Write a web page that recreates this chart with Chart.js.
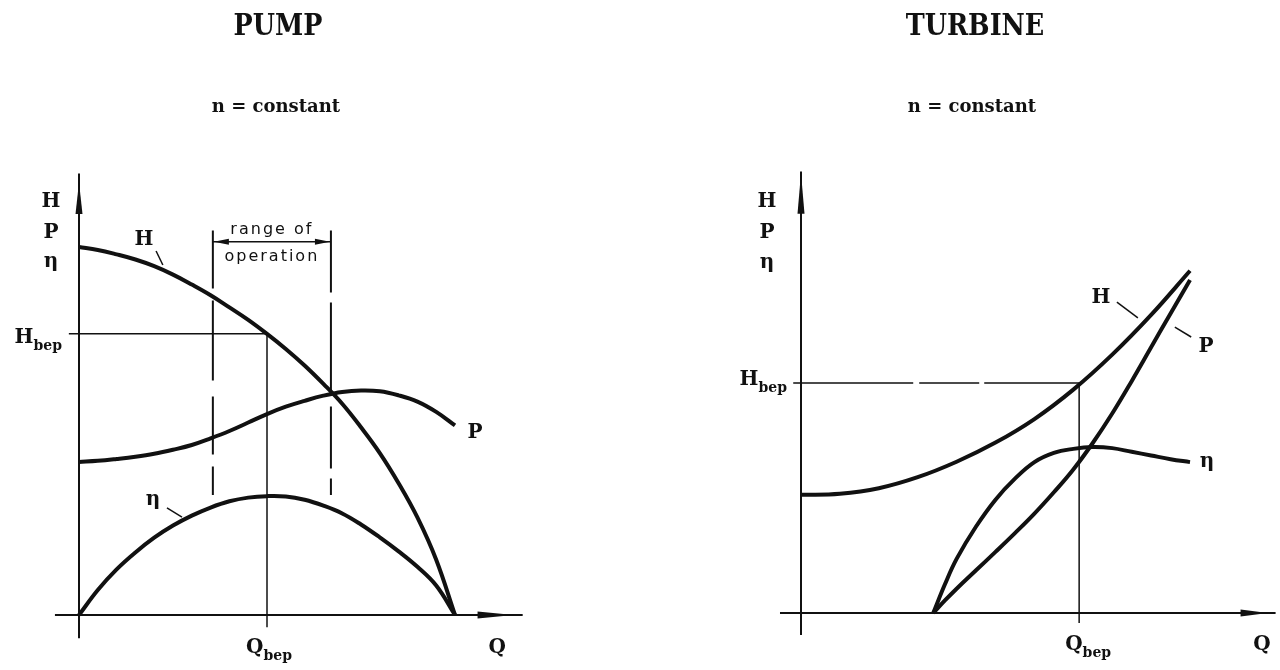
<!DOCTYPE html>
<html>
<head>
<meta charset="utf-8">
<title>Pump and turbine characteristics</title>
<script src="https://cdn.jsdelivr.net/npm/chart.js@4.4.1/dist/chart.umd.min.js"></script>
<style>
  body { margin: 0; width: 1280px; height: 670px; background: #fff; position: relative; overflow: hidden; }
  canvas { position: absolute; top: 0; }
  #pumpChart { left: 0; }
  #turbineChart { left: 640px; }
  .title, .sub { position: absolute; width: 200px; text-align: center; color: #111; font-family: 'DejaVu Serif', serif; font-weight: bold; z-index: 2; }
  .title { top: 10px; font-size: 30px; line-height: 30px; transform: scaleX(0.85); }
  .sub { top: 97px; font-size: 18px; line-height: 18px; }
</style>
</head>
<body>
<canvas id="pumpChart" width="640" height="670"></canvas>
<canvas id="turbineChart" width="640" height="670"></canvas>
<div class="title" style="left:178px">PUMP</div>
<div class="title" style="left:875px">TURBINE</div>
<div class="sub" style="left:176px">n = constant</div>
<div class="sub" style="left:872px">n = constant</div>
<script>
// --- pump, n = constant (Q and H/P/eta in relative units) ---
const qPump = [0, 5, 10, 15, 20, 25, 30, 35, 40, 45, 50, 55, 60, 65, 70, 75, 80, 85, 90, 95, 100];
const headPump = [100, 99.2, 98, 96.6, 94.8, 92.5, 89.8, 86.9, 83.6, 80.2, 76.4, 72.3, 67.8, 62.8, 57.4, 51, 44, 35.8, 26.5, 15, 0];
const powerPump = [41.6, 41.9, 42.4, 43, 43.8, 44.9, 46.2, 48, 50, 52.3, 54.6, 56.6, 58.2, 59.6, 60.6, 61, 60.8, 59.7, 58, 55.2, 51.5];
const effPump = [0, 6.8, 12.4, 17, 21, 24.3, 27, 29.2, 30.9, 31.9, 32.3, 32.2, 31.3, 29.7, 27.6, 24.6, 21.1, 17.3, 13.1, 8, 0];
const qBepPump = 50;
const hBepPump = 76.4;
const rangePump = [35.6, 67];

// --- turbine, n = constant ---
const qTurbineH = [0, 10, 20, 30, 40, 50, 60, 70, 80, 90, 100];
const headTurbine = [32.1, 32.4, 33.9, 36.9, 41.1, 46.3, 52.7, 60.7, 70.2, 81, 93];
const qTurbine = [34, 37, 40, 45, 50, 55, 60, 65, 70, 75, 80, 85, 90, 95, 100];
const powerTurbine = [0, 3.4, 6.6, 11.6, 16.6, 21.7, 27, 32.8, 39, 46.2, 54.2, 63, 72.2, 81.4, 90.5];
const effTurbine = [0, 7.8, 14.7, 23.5, 30.8, 36.5, 41, 43.5, 44.6, 45.1, 44.8, 43.8, 42.8, 41.8, 41];
const qBepTurbine = 71.5;
const hBepTurbine = 62.5;

const INK = '#111';
const LABEL_FONT = 'bold 20px "DejaVu Serif", serif';
const SUB_FONT = 'bold 14px "DejaVu Serif", serif';

function toPoints(xs, ys) {
  return xs.map((x, i) => ({ x: x, y: ys[i] }));
}

function curve(label, xs, ys) {
  return {
    label: label,
    data: toPoints(xs, ys),
    borderColor: INK,
    borderWidth: 4,
    pointRadius: 0,
    fill: false,
    tension: 0.4,
    clip: false
  };
}

// draws axes, arrows, bep lines and all labels on top of the curves
function makeOverlay(spec) {
  return {
    id: 'overlay',
    afterDatasetsDraw(chart) {
      const ctx = chart.ctx;
      const X = v => chart.scales.x.getPixelForValue(v);
      const Y = v => chart.scales.y.getPixelForValue(v);

      function seg(x1, y1, x2, y2, w, dash) {
        ctx.save();
        ctx.lineWidth = w;
        ctx.setLineDash(dash || []);
        ctx.beginPath();
        ctx.moveTo(x1, y1);
        ctx.lineTo(x2, y2);
        ctx.stroke();
        ctx.restore();
      }

      function dart(x1, y1, x2, y2, hw) {
        const len = Math.hypot(x2 - x1, y2 - y1);
        const nx = -(y2 - y1) / len, ny = (x2 - x1) / len;
        ctx.beginPath();
        ctx.moveTo(x1 + nx * hw, y1 + ny * hw);
        ctx.lineTo(x2, y2);
        ctx.lineTo(x1 - nx * hw, y1 - ny * hw);
        ctx.closePath();
        ctx.fill();
      }

      function text(main, sub, x, y, align) {
        ctx.font = LABEL_FONT;
        const w1 = ctx.measureText(main).width;
        ctx.font = SUB_FONT;
        const w2 = sub ? ctx.measureText(sub).width : 0;
        let x0 = x;
        if (align === 'center') x0 = x - (w1 + w2) / 2;
        if (align === 'right') x0 = x - (w1 + w2);
        ctx.textAlign = 'left';
        ctx.textBaseline = 'alphabetic';
        ctx.font = LABEL_FONT;
        ctx.fillText(main, x0, y);
        if (sub) {
          ctx.font = SUB_FONT;
          ctx.fillText(sub, x0 + w1, y + 7);
        }
      }

      ctx.save();
      ctx.strokeStyle = INK;
      ctx.fillStyle = INK;

      // axes
      seg(X(0), Y(spec.yAxis[0]), X(0), Y(spec.yAxis[1]), 2);
      seg(X(spec.xAxis[0]), Y(0), X(spec.xAxis[1]), Y(0), 2);
      dart(X(0), Y(spec.yArrow[0]), X(0), Y(spec.yArrow[1]), 3.5);
      dart(X(spec.xArrow[0]), Y(0), X(spec.xArrow[1]), Y(0), 3.5);

      // best efficiency point
      seg(X(spec.hLineFrom), Y(spec.hBep), X(spec.qBep), Y(spec.hBep), 1.5, spec.hDash);
      seg(X(spec.qBep), Y(spec.hBep), X(spec.qBep), Y(spec.qLineTo), 1.5);

      // range of operation
      if (spec.range) {
        const r = spec.range;
        seg(X(r[0]), Y(r[2]), X(r[0]), Y(r[3]), 2, [58, 12, 80, 16]);
        seg(X(r[1]), Y(r[2]), X(r[1]), Y(r[3]), 2, [62, 10, 90, 14]);
        seg(X(r[0]), Y(r[4]), X(r[1]), Y(r[4]), 1.5);
        dart(X(r[0]) + 16, Y(r[4]), X(r[0]) + 1, Y(r[4]), 3);
        dart(X(r[1]) - 16, Y(r[4]), X(r[1]) - 1, Y(r[4]), 3);
        ctx.save();
        ctx.font = '16px "DejaVu Sans", sans-serif';
        ctx.letterSpacing = '2px';
        ctx.textAlign = 'center';
        ctx.textBaseline = 'alphabetic';
        const cx = X((r[0] + r[1]) / 2);
        ctx.fillText('range of', cx, Y(r[4]) - 8);
        ctx.fillText('operation', cx, Y(r[4]) + 19);
        ctx.restore();
      }

      // axis titles
      ['H', 'P', '\u03b7'].forEach((t, i) => {
        text(t, '', X(0) + spec.axisLabelDx, Y(spec.axisLabelY[i]), 'center');
      });
      text('H', 'bep', X(0) + spec.hBepLabel[0], Y(spec.hBep) + spec.hBepLabel[1], 'right');
      text('Q', 'bep', X(spec.qBep) + spec.qBepLabel[0], Y(0) + spec.qBepLabel[1], 'center');
      text('Q', '', X(spec.qLabel[0]), Y(0) + spec.qLabel[1], 'center');

      // curve names with leaders
      spec.curveLabels.forEach(c => {
        text(c.t, '', X(c.x), Y(c.y), 'center');
        if (c.lead) seg(X(c.lead[0]), Y(c.lead[1]), X(c.lead[2]), Y(c.lead[3]), 1.5);
      });
      ctx.restore();
    }
  };
}

function buildChart(id, datasets, xRange, yRange, padding, spec) {
  return new Chart(document.getElementById(id), {
    type: 'line',
    data: { datasets: datasets },
    options: {
      responsive: false,
      animation: false,
      devicePixelRatio: 1,
      layout: { padding: padding },
      plugins: { legend: { display: false }, tooltip: { enabled: false }, title: { display: false } },
      scales: {
        x: { type: 'linear', min: xRange[0], max: xRange[1], display: false },
        y: { type: 'linear', min: yRange[0], max: yRange[1], display: false }
      }
    },
    plugins: [makeOverlay(spec)]
  });
}

buildChart('pumpChart', [
  curve('H', qPump, headPump),
  curve('P', qPump, powerPump),
  curve('\u03b7', qPump, effPump)
], [-10, 120], [-10, 120], { left: 41.4, right: 109.8, top: 173.4, bottom: 18.2 }, {
  yAxis: [-6.3, 120], xAxis: [-6.4, 118],
  yArrow: [109, 117.5], xArrow: [106, 115.6],
  qBep: qBepPump, hBep: hBepPump, hLineFrom: -2.7, qLineTo: -3.3,
  range: [rangePump[0], rangePump[1], 104.5, 32.6, 101.4],
  axisLabelDx: -28, axisLabelY: [110.9, 102.4, 94.6],
  hBepLabel: [-17, 9], qBepLabel: [2, 38], qLabel: [111.2, 38],
  curveLabels: [
    { t: 'H', x: 17.3, y: 100.5, lead: [20.5, 98.9, 22.3, 95.1] },
    { t: '\u03b7', x: 19.7, y: 29.9, lead: [23.4, 29.1, 27.4, 26.6] },
    { t: 'P', x: 105.3, y: 48.1 }
  ]
});

buildChart('turbineChart', [
  curve('H', qTurbineH, headTurbine),
  curve('P', qTurbine, powerTurbine),
  curve('\u03b7', qTurbine, effTurbine)
], [-10, 122], [-10, 120], { left: 122.1, right: 4.4, top: 171.4, bottom: 20.2 }, {
  yAxis: [-6, 120], xAxis: [-5.4, 122],
  yArrow: [108.5, 119.5], xArrow: [113, 120],
  qBep: qBepTurbine, hBep: hBepTurbine, hLineFrom: -2, qLineTo: -2.7, hDash: [120, 6, 60, 5],
  axisLabelDx: -34, axisLabelY: [110.3, 101.9, 93.8],
  hBepLabel: [-14, 2], qBepLabel: [9, 37], qLabel: [118.5, 37],
  curveLabels: [
    { t: 'H', x: 77.1, y: 84.2, lead: [81.2, 84.5, 86.6, 80.2] },
    { t: 'P', x: 104.1, y: 70.9, lead: [96.1, 77.7, 100.3, 75] },
    { t: '\u03b7', x: 104.4, y: 39.7 }
  ]
});
</script>
</body>
</html>
